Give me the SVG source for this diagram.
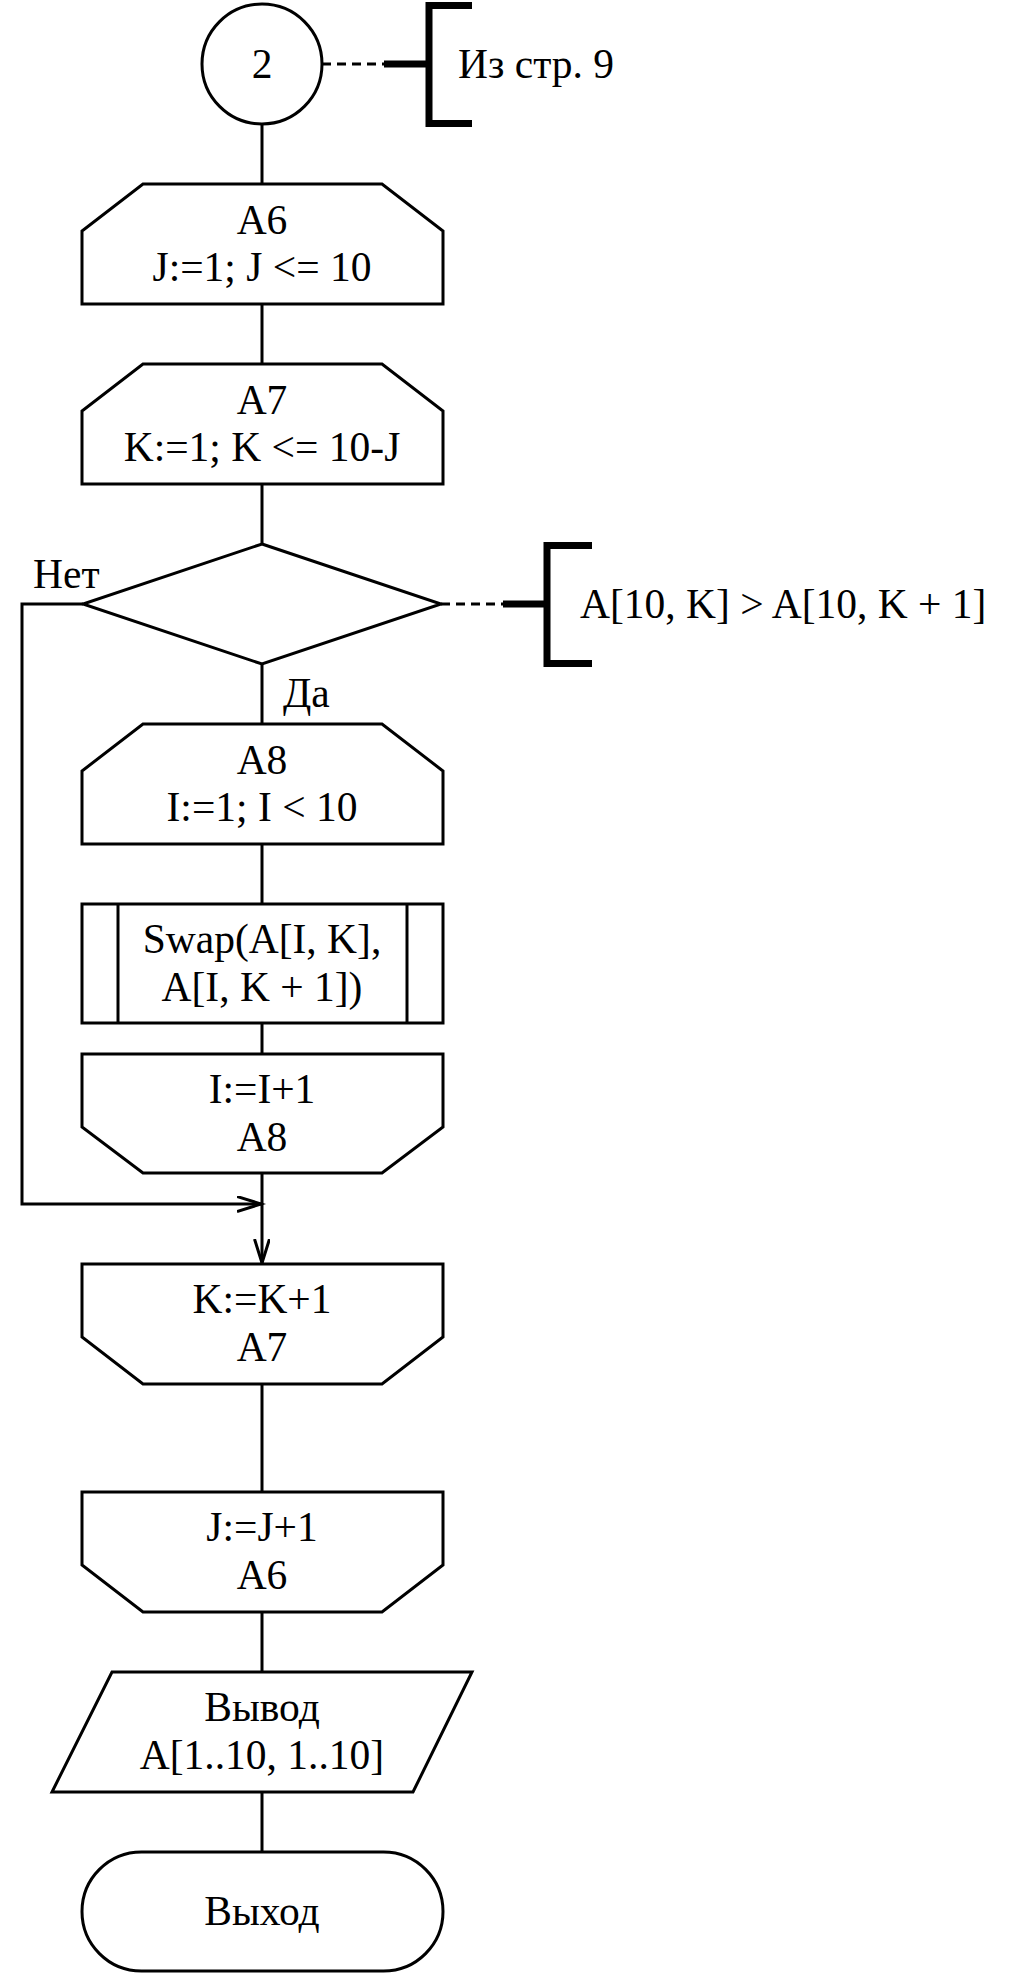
<svg xmlns="http://www.w3.org/2000/svg" width="1017" height="1974" viewBox="0 0 1017 1974">
<defs>
<style>
.s{fill:#fff;stroke:#000;stroke-width:3}
.c{fill:none;stroke:#000;stroke-width:3}
.d{fill:none;stroke:#000;stroke-width:3;stroke-dasharray:9 6}
.b{fill:none;stroke:#000;stroke-width:7}
text{font-family:"Liberation Serif","Times New Roman",serif;font-size:41.5px;fill:#000}
.m{text-anchor:middle}
</style>
<marker id="arr" markerUnits="userSpaceOnUse" markerWidth="30" markerHeight="20" refX="24" refY="8" orient="auto" viewBox="0 0 30 20">
<path d="M0,0.5 L24,8 L0,15.5" fill="none" stroke="#000" stroke-width="3"/>
</marker>
</defs>
<rect width="1017" height="1974" fill="#fff"/>
<g id="connectors">
<line class="c" x1="262" y1="124" x2="262" y2="184"/>
<line class="c" x1="262" y1="304" x2="262" y2="364"/>
<line class="c" x1="262" y1="484" x2="262" y2="544"/>
<line class="c" x1="262" y1="664" x2="262" y2="724"/>
<line class="c" x1="262" y1="844" x2="262" y2="904"/>
<line class="c" x1="262" y1="1023" x2="262" y2="1054"/>
<line class="c" x1="262" y1="1173" x2="262" y2="1263" marker-end="url(#arr)"/>
<polyline class="c" points="83,604 22,604 22,1204 261,1204" marker-end="url(#arr)"/>
<line class="c" x1="262" y1="1384" x2="262" y2="1492"/>
<line class="c" x1="262" y1="1612" x2="262" y2="1672"/>
<line class="c" x1="262" y1="1792" x2="262" y2="1852"/>
<text x="33" y="588" font-family="Liberation Serif, serif">Нет</text>
<text x="283" y="707" font-family="Liberation Serif, serif">Да</text>
</g>
<g id="n-connector2">
<circle class="s" cx="262" cy="64" r="60"/>
<text class="m" x="262" y="78">2</text>
</g>
<g id="comment1">
<line class="d" x1="322" y1="64" x2="384" y2="64"/>
<line class="b" x1="384" y1="64" x2="429" y2="64"/>
<polyline class="b" points="472,5.5 429,5.5 429,123.5 472,123.5"/>
<text x="458" y="78">Из стр. 9</text>
</g>
<g id="n-a6">
<path class="s" d="M143,184 H382 L443,231 V304 H82 V231 Z"/>
<text class="m" x="262" y="234">A6</text>
<text class="m" x="262" y="281">J:=1; J &lt;= 10</text>
</g>
<g id="n-a7">
<path class="s" d="M143,364 H382 L443,411 V484 H82 V411 Z"/>
<text class="m" x="262" y="414">A7</text>
<text class="m" x="262" y="461">K:=1; K &lt;= 10-J</text>
</g>
<g id="n-cond">
<path class="s" d="M262,544 L441,604 L262,664 L83,604 Z"/>
</g>
<g id="comment2">
<line class="d" x1="441" y1="604" x2="503" y2="604"/>
<line class="b" x1="503" y1="604" x2="547" y2="604"/>
<polyline class="b" points="592,545.5 547,545.5 547,663.5 592,663.5"/>
<text x="580" y="618">A[10, K] &gt; A[10, K + 1]</text>
</g>
<g id="n-a8">
<path class="s" d="M143,724 H382 L443,771 V844 H82 V771 Z"/>
<text class="m" x="262" y="774">A8</text>
<text class="m" x="262" y="821">I:=1; I &lt; 10</text>
</g>
<g id="n-swap">
<rect class="s" x="82" y="904" width="361" height="119"/>
<line class="c" x1="118" y1="904" x2="118" y2="1023"/>
<line class="c" x1="407" y1="904" x2="407" y2="1023"/>
<text class="m" x="262" y="953">Swap(A[I, K],</text>
<text class="m" x="262" y="1001">A[I, K + 1])</text>
</g>
<g id="n-a8end">
<path class="s" d="M82,1054 H443 V1127 L382,1173 H143 L82,1127 Z"/>
<text class="m" x="262" y="1103">I:=I+1</text>
<text class="m" x="262" y="1151">A8</text>
</g>
<g id="n-a7end">
<path class="s" d="M82,1264 H443 V1337 L382,1384 H143 L82,1337 Z"/>
<text class="m" x="262" y="1313">K:=K+1</text>
<text class="m" x="262" y="1361">A7</text>
</g>
<g id="n-a6end">
<path class="s" d="M82,1492 H443 V1565 L382,1612 H143 L82,1565 Z"/>
<text class="m" x="262" y="1541">J:=J+1</text>
<text class="m" x="262" y="1589">A6</text>
</g>
<g id="n-output">
<path class="s" d="M112,1672 H472 L413,1792 H52 Z"/>
<text class="m" x="262" y="1721">Вывод</text>
<text class="m" x="262" y="1769">A[1..10, 1..10]</text>
</g>
<g id="n-exit">
<rect class="s" x="82" y="1852" width="361" height="119" rx="59.5" ry="59.5"/>
<text class="m" x="262" y="1925">Выход</text>
</g>
</svg>
